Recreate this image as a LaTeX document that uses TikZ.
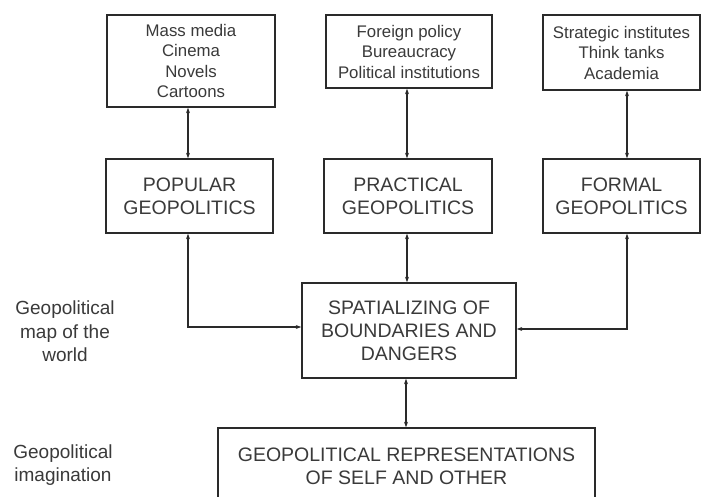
\documentclass[tikz,border=0pt]{standalone}
\usepackage{fontspec}
\setmainfont{Liberation Sans}
\usetikzlibrary{arrows.meta}
\definecolor{linec}{HTML}{2A2A2A}
\definecolor{textc}{HTML}{3A3A3A}
\tikzset{
  box/.style={draw=linec, line width=1.3pt, fill=white, text=textc, align=center, inner sep=0pt},
  smallbox/.style={box, font=\fontsize{16.8}{20.5}\selectfont},
  bigbox/.style={box, font=\fontsize{19.5}{23}\selectfont},
  sidelabel/.style={text=textc, align=center, font=\fontsize{19}{23.5}\selectfont},
  biarrow/.style={draw=linec, line width=1.2pt, {Stealth[length=5.5pt,width=3.8pt]}-{Stealth[length=5.5pt,width=3.8pt]}}
}
\begin{document}
\begin{tikzpicture}[x=1pt,y=-1pt]
\useasboundingbox (0,0) rectangle (701,497);
\fill[white] (0,0) rectangle (701,497);
\clip (0,0) rectangle (701,497);

% top boxes
\node[smallbox, minimum width=168pt, minimum height=92pt] (media) at (191,61)
  {Mass media\\Cinema\\Novels\\Cartoons};
\node[smallbox, minimum width=166pt, minimum height=73pt] (policy) at (409,51.5)
  {Foreign policy\\Bureaucracy\\Political institutions};
\node[smallbox, minimum width=157pt, minimum height=75pt] (inst) at (621.5,52.5)
  {Strategic institutes\\Think tanks\\Academia};

% middle boxes
\node[bigbox, minimum width=167pt, minimum height=74pt] (popular) at (189.5,196)
  {POPULAR\\GEOPOLITICS};
\node[bigbox, minimum width=168pt, minimum height=74pt] (practical) at (408,196)
  {PRACTICAL\\GEOPOLITICS};
\node[bigbox, minimum width=157pt, minimum height=74pt] (formal) at (621.5,196)
  {FORMAL\\GEOPOLITICS};

% spatializing
\node[bigbox, minimum width=214pt, minimum height=95pt] (spatial) at (409,330.5)
  {SPATIALIZING OF\\BOUNDARIES AND\\DANGERS};

% bottom box (cut off at the bottom)
\node[bigbox, minimum width=377pt, minimum height=77pt] (repr) at (406.5,466.5)
  {GEOPOLITICAL REPRESENTATIONS\\OF SELF AND OTHER};

% side labels
\node[sidelabel] (maplabel) at (65,331.5) {Geopolitical\\map of the\\world};
\node[sidelabel] (imaglabel) at (63,465) {Geopolitical\\imagination};

% connectors
\draw[biarrow] ([xshift=-1.5pt]popular.north) -- ([xshift=-1.5pt]popular.north |- media.south);
\draw[biarrow] ([xshift=-1pt]practical.north) -- ([xshift=-1pt]practical.north |- policy.south);
\draw[biarrow] ([xshift=5.5pt]formal.north) -- ([xshift=5.5pt]formal.north |- inst.south);
\draw[biarrow] ([xshift=-1.5pt]popular.south) |- ([yshift=3.5pt]spatial.west);
\draw[biarrow] ([xshift=5.5pt]formal.south) |- ([yshift=1.5pt]spatial.east);
\draw[biarrow] ([xshift=-1pt]practical.south) -- ([xshift=-1pt]practical.south |- spatial.north);
\draw[biarrow] ([xshift=-3pt]spatial.south) -- ([xshift=-3pt]spatial.south |- repr.north);
\end{tikzpicture}
\end{document}
